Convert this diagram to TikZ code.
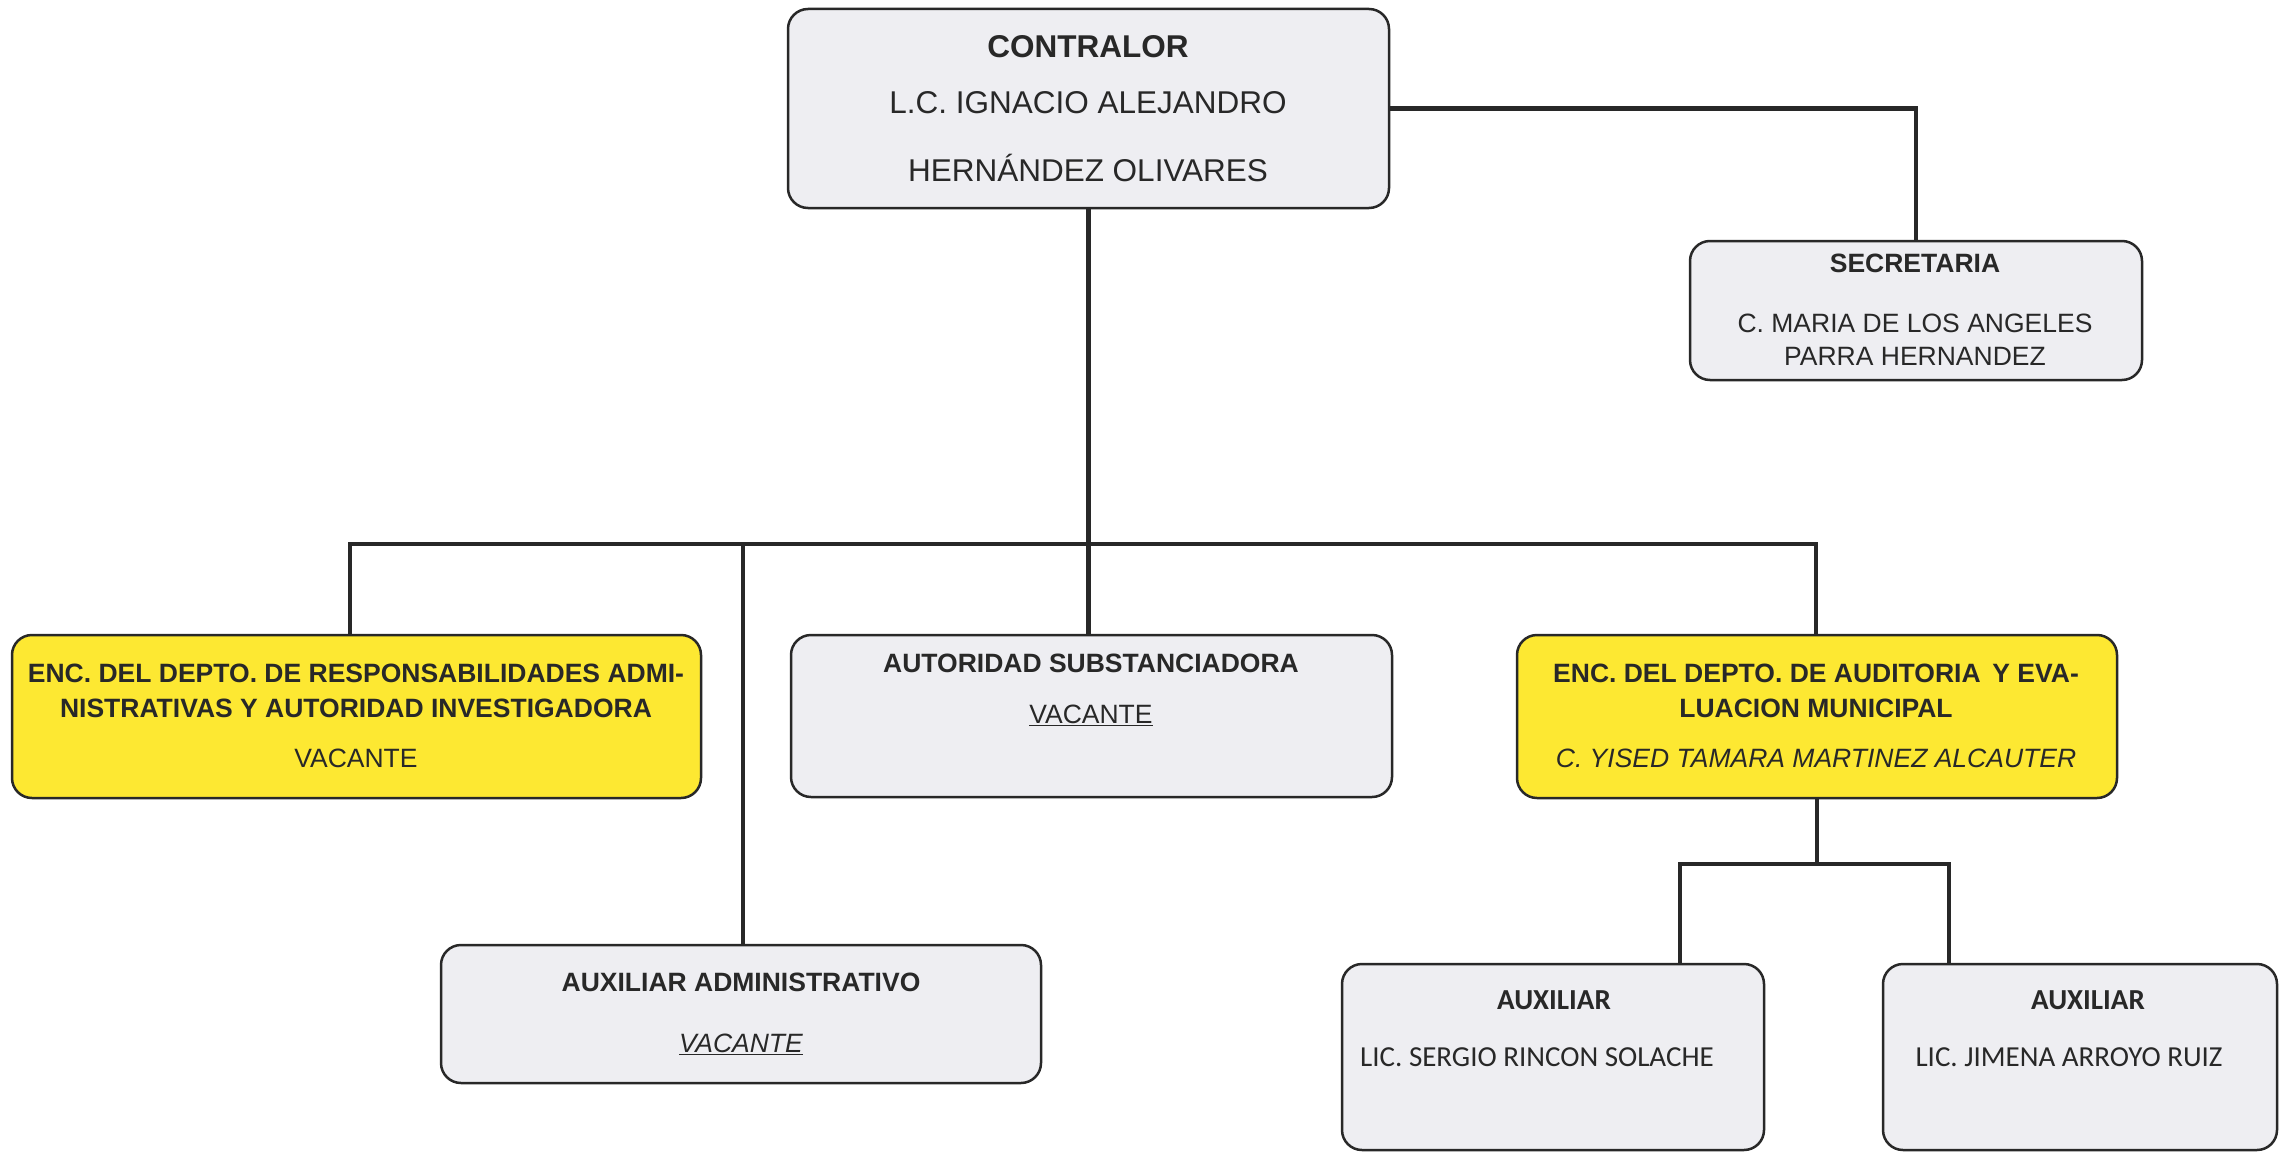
\documentclass[tikz,border=0pt]{standalone}
\usepackage{fontspec}
\setmainfont{Liberation Sans}
\newfontfamily\calib{Carlito}
\definecolor{boxgray}{RGB}{238,238,242}
\definecolor{boxyellow}{RGB}{253,232,50}
\definecolor{ink}{RGB}{40,40,40}
\begin{document}
\begin{tikzpicture}[x=1pt,y=-1pt,
  box/.style={draw=ink, line width=2.5pt, rounded corners=20pt, fill=boxgray, inner sep=0pt},
  ybox/.style={box, fill=boxyellow},
  conn/.style={draw=ink, line width=4.5pt},
  lbl/.style={anchor=base, inner sep=0pt, text=ink},
  big/.style={font=\fontsize{31.5}{36}\selectfont},
  mid/.style={font=\fontsize{26.5}{31}\selectfont},
  midb/.style={font=\fontsize{26.5}{31}\selectfont\bfseries},
  bigb/.style={font=\fontsize{31.5}{36}\selectfont\bfseries},
  cal/.style={font=\fontsize{29}{33}\selectfont\calib},
  calb/.style={font=\fontsize{29}{33}\selectfont\calib\bfseries}]
\useasboundingbox (0,0) rectangle (2280,1153);
\fill[white] (0,0) rectangle (2280,1153);

% boxes
\node[box, minimum width=601pt, minimum height=199pt] (contralor) at (1088.5,108.5) {};
\node[box, minimum width=452pt, minimum height=139pt] (secre) at (1916,310.5) {};
\node[ybox, minimum width=689pt, minimum height=163pt] (box1) at (356.5,716.5) {};
\node[box, minimum width=601pt, minimum height=162pt] (box2) at (1091.5,716) {};
\node[ybox, minimum width=600pt, minimum height=163pt] (box3) at (1817,716.5) {};
\node[box, minimum width=600pt, minimum height=138pt] (auxadm) at (741,1014) {};
\node[box, minimum width=422pt, minimum height=186pt] (aux1) at (1553,1057) {};
\node[box, minimum width=394pt, minimum height=186pt] (aux2) at (2080,1057) {};

% connectors
\coordinate (busL) at (350,544);
\coordinate (busR) at (1816,544);
\coordinate (dropA) at (743,544);
\coordinate (subL) at (1680,864);
\coordinate (subR) at (1949,864);
\draw[conn] (contralor.east) -| (secre.north);
\draw[conn] (contralor.south) -- (contralor.south |- box2.north);
\draw[conn, line cap=rect] (busL) -- (busR);
\draw[conn] (busL) -- (busL |- box1.north);
\draw[conn] (dropA) -- (dropA |- auxadm.north);
\draw[conn] (busR) -- (busR |- box3.north);
\draw[conn] (box3.south) -- (box3.south |- subL);
\draw[conn, line cap=rect] (subL) -- (subR);
\draw[conn] (subL) -- (subL |- aux1.north);
\draw[conn] (subR) -- (subR |- aux2.north);

% texts
\node[lbl, bigb] (t1) at (1088,58) {CONTRALOR};
\node[lbl, big] (t2) at (1088,114) {L.C. IGNACIO ALEJANDRO};
\node[lbl, big] (t3) at (1088,181) {HERNÁNDEZ OLIVARES};

\node[lbl, midb] (s1) at (1915,272.5) {SECRETARIA};
\node[lbl, mid] (s2) at (1915,332.5) {C. MARIA DE LOS ANGELES};
\node[lbl, mid] (s3) at (1915,365.5) {PARRA HERNANDEZ};

\node[lbl, midb] (b1a) at (356,682.5) {ENC. DEL DEPTO. DE RESPONSABILIDADES ADMI-};
\node[lbl, midb] (b1b) at (356,717.5) {NISTRATIVAS Y AUTORIDAD INVESTIGADORA};
\node[lbl, mid] (b1c) at (356,767.5) {VACANTE};

\node[lbl, midb] (b2a) at (1091,672.5) {AUTORIDAD SUBSTANCIADORA};
\node[lbl, mid] (b2b) at (1091,723.5) {\underline{VACANTE}};

\node[lbl, midb] (b3a) at (1816,682.5) {ENC. DEL DEPTO. DE AUDITORIA\, Y EVA-};
\node[lbl, midb] (b3b) at (1816,717.5) {LUACION MUNICIPAL};
\node[lbl, mid] (b3c) at (1816,767.5) {\itshape C. YISED TAMARA MARTINEZ ALCAUTER};

\node[lbl, midb] (a1) at (741,991.5) {AUXILIAR ADMINISTRATIVO};
\node[lbl, mid] (a2) at (741,1052.5) {\underline{\itshape VACANTE}};

\node[lbl, calb] (x1) at (1554,1009) {AUXILIAR};
\node[lbl, cal] (x2) at (1537,1066) {LIC. SERGIO RINCON SOLACHE};
\node[lbl, calb] (y1) at (2088,1009) {AUXILIAR};
\node[lbl, cal] (y2) at (2069,1066) {LIC. JIMENA ARROYO RUIZ};
\end{tikzpicture}
\end{document}
